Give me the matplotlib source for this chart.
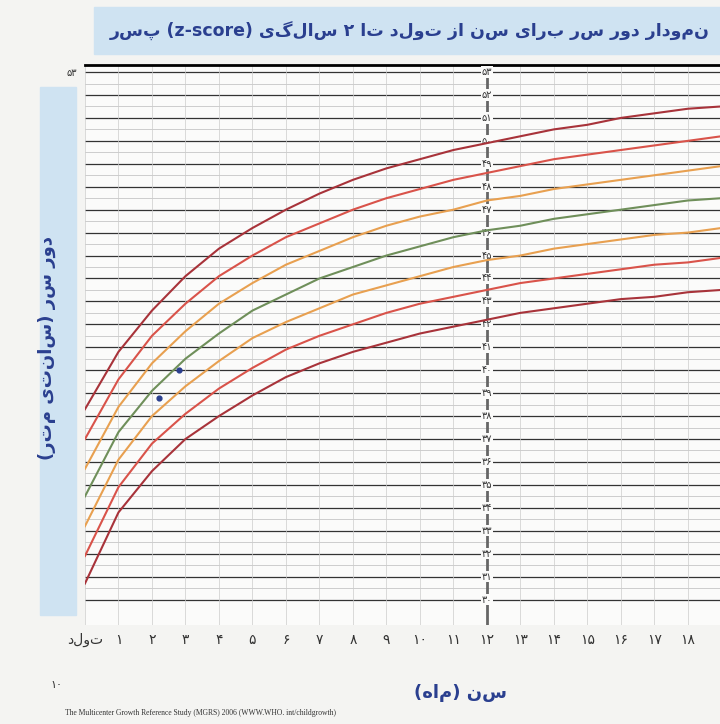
import matplotlib
matplotlib.use("Agg")
import matplotlib.pyplot as plt
from matplotlib.patches import Rectangle

months = list(range(20))
z_m3 = [30.7,33.8,35.6,37.0,38.0,38.9,39.7,40.3,40.8,41.2,41.6,41.9,42.2,42.5,42.7,42.9,43.1,43.2,43.4,43.5]
z_m2 = [31.9,34.9,36.8,38.1,39.2,40.1,40.9,41.5,42.0,42.5,42.9,43.2,43.5,43.8,44.0,44.2,44.4,44.6,44.7,44.9]
z_m1 = [33.2,36.1,38.0,39.3,40.4,41.4,42.1,42.7,43.3,43.7,44.1,44.5,44.8,45.0,45.3,45.5,45.7,45.9,46.0,46.2]
z_0  = [34.5,37.3,39.1,40.5,41.6,42.6,43.3,44.0,44.5,45.0,45.4,45.8,46.1,46.3,46.6,46.8,47.0,47.2,47.4,47.5]
z_p1 = [35.7,38.4,40.3,41.7,42.9,43.8,44.6,45.2,45.8,46.3,46.7,47.0,47.4,47.6,47.9,48.1,48.3,48.5,48.7,48.9]
z_p2 = [37.0,39.6,41.5,42.9,44.1,45.0,45.8,46.4,47.0,47.5,47.9,48.3,48.6,48.9,49.2,49.4,49.6,49.8,50.0,50.2]
z_p3 = [38.3,40.8,42.6,44.1,45.3,46.2,47.0,47.7,48.3,48.8,49.2,49.6,49.9,50.2,50.5,50.7,51.0,51.2,51.4,51.5]
point_month = [2.8, 2.2]
point_hc = [40.0, 38.8]

fa_digits = "۰۱۲۳۴۵۶۷۸۹"
def fa(n):
    return "".join(fa_digits[int(c)] for c in str(n))
def rtl(s):
    r = s[::-1]
    return r.translate(str.maketrans("()", ")("))

y_ticks = list(range(30, 54))
x_ticks = list(range(0, 20))
x_labels = ["تولد"] + [fa(m) for m in range(1, 20)]
title = "نمودار دور سر برای سن از تولد تا ۲ سالگی"
ylabel = "دور سر (سانتی متر)"
xlabel = "سن (ماه)"

plt.rcParams['font.family'] = ['DejaVu Sans']
fig = plt.figure(figsize=(7.2, 7.24), dpi=100)
fig.patch.set_facecolor('#f4f4f2')

fig.patches.append(Rectangle((0.13, 0.925), 0.87, 0.065, transform=fig.transFigure, color='#cfe3f2', zorder=0))
fig.patches.append(Rectangle((0.055, 0.15), 0.05, 0.73, transform=fig.transFigure, color='#cfe3f2', zorder=0))
fig.text(0.985, 0.957, rtl("پسر") + " (z-score) " + rtl(title),
         ha='right', va='center', fontsize=12.5, color='#2a3f8f', fontweight='bold')
fig.text(0.065, 0.52, rtl(ylabel), rotation=90, ha='center', va='center', fontsize=13, color='#2a3f8f', fontweight='bold')
fig.text(0.64, 0.043, rtl(xlabel), ha='center', va='center', fontsize=13, color='#2a3f8f', fontweight='bold')
fig.text(0.07, 0.05, fa(10), fontsize=8, color='#333')
fig.text(0.09, 0.012, "The Multicenter Growth Reference Study (MGRS) 2006 (WWW.WHO. int/childgrowth)",
         fontsize=5.5, color='#333', family='Liberation Serif')

ax = fig.add_axes([0.118, 0.137, 0.882, 0.773])
ax.set_facecolor('#fbfbfa')
ax.set_xlim(0, 18.96)
ax.set_ylim(28.9, 53.3)

for y in y_ticks:
    ax.axhline(y, color='#333', lw=0.9, zorder=1)
    ax.axhline(y + 0.5, color='#bbb', lw=0.5, zorder=1)
for m in x_ticks:
    ax.axvline(m, color='#ccc', lw=0.5, zorder=1)
ax.axvline(12, color='#666', lw=2, zorder=2)
for y in y_ticks:
    ax.text(12, y, fa(y), ha='center', va='center', fontsize=7, color='#333',
            bbox=dict(facecolor='#fbfbfa', edgecolor='none', pad=0.5), zorder=3)

series = [(z_p3, '#a8333a'), (z_p2, '#d9534a'), (z_p1, '#e8a050'), (z_0, '#6f8f5a'),
          (z_m1, '#e8a050'), (z_m2, '#d9534a'), (z_m3, '#a8333a')]
for vals, c in series:
    ax.plot(months, vals, color=c, lw=1.5, zorder=4)
ax.scatter(point_month, point_hc, s=12, color='#2a3f8f', zorder=5)

ax.set_yticks(y_ticks)
ax.set_yticklabels([fa(y) for y in y_ticks], fontsize=7, color='#333')
ax.set_xticks(x_ticks[:19])
ax.set_xticklabels([rtl(x_labels[0])] + x_labels[1:19], fontsize=10, color='#333')
ax.tick_params(length=0, pad=6)
for s in ax.spines.values():
    s.set_visible(False)
ax.spines['top'].set_visible(True)
ax.spines['top'].set_linewidth(2)

fig.savefig("out.png", dpi=100, facecolor=fig.get_facecolor())
